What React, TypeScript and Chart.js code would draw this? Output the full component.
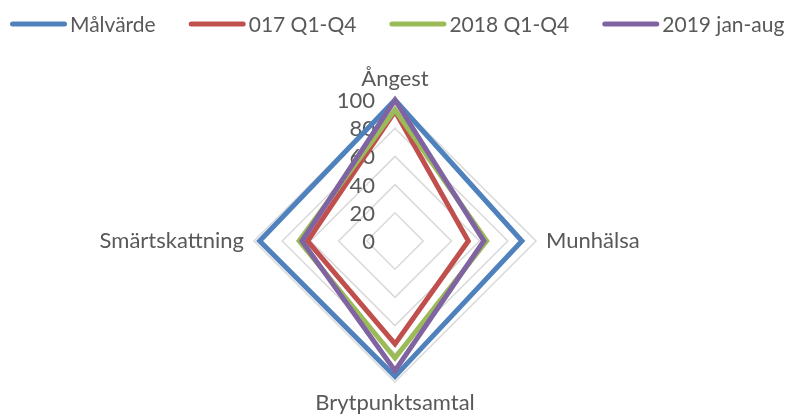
import React, { useEffect, useRef } from 'react';
import { Chart, registerables } from 'chart.js';

Chart.register(...registerables);

const categories = ['Ångest', 'Munhälsa', 'Brytpunktsamtal', 'Smärtskattning'];
const seriesNames = ['Målvärde', '017 Q1-Q4', '2018 Q1-Q4', '2019 jan-aug'];
const malvarde = [100, 90, 96, 96];
const q2017 = [92, 52, 73, 62];
const q2018 = [93, 65, 83, 68];
const jan2019 = [100, 63, 92, 66];
const seriesColors = ['#4F81BD', '#C0504D', '#9BBB59', '#8064A2'];

const FONT = 'Lato, "Open Sans", sans-serif';
const TEXT = '#595959';

const legendPlugin = {
  id: 'customLegend',
  afterDraw(chart: any) {
    const ctx = chart.ctx;
    ctx.save();
    ctx.font = `21px ${FONT}`;
    ctx.textBaseline = 'middle';
    ctx.textAlign = 'left';
    let x = 10;
    const y = 24;
    chart.data.datasets.forEach((ds: any) => {
      ctx.strokeStyle = ds.borderColor;
      ctx.lineWidth = 5;
      ctx.lineCap = 'round';
      ctx.beginPath();
      ctx.moveTo(x + 2.5, y);
      ctx.lineTo(x + 54.5, y);
      ctx.stroke();
      ctx.fillStyle = TEXT;
      ctx.fillText(ds.label, x + 60, y + 1);
      x += 60 + ctx.measureText(ds.label).width + 33;
    });
    ctx.restore();
  },
};

const tickPlugin = {
  id: 'leftTicks',
  beforeDatasetsDraw(chart: any) {
    const s = chart.scales.r;
    const ctx = chart.ctx;
    ctx.save();
    ctx.font = `22px ${FONT}`;
    ctx.textAlign = 'right';
    ctx.textBaseline = 'middle';
    ctx.fillStyle = TEXT;
    s.ticks.forEach((t: any) => {
      const d = s.getDistanceFromCenterForValue(t.value);
      ctx.fillText(String(t.value), s.xCenter - 20, s.yCenter - d + 1);
    });
    ctx.restore();
  },
};

export default function App() {
  const ref = useRef<HTMLCanvasElement | null>(null);

  useEffect(() => {
    if (!ref.current) return;
    const data = [malvarde, q2017, q2018, jan2019];
    const chart = new Chart(ref.current, {
      type: 'radar',
      data: {
        labels: categories,
        datasets: seriesNames.map((name, i) => ({
          label: name,
          data: data[i],
          borderColor: seriesColors[i],
          backgroundColor: seriesColors[i],
          borderWidth: 5,
          borderJoinStyle: 'miter',
          pointRadius: 0,
          pointHoverRadius: 0,
          fill: false,
          tension: 0,
          order: 3 - i,
        })),
      },
      options: {
        responsive: false,
        animation: false,
        devicePixelRatio: 1,
        layout: { padding: { top: 68, bottom: 2, left: 0, right: 2 } },
        plugins: {
          legend: { display: false },
          tooltip: { enabled: false },
        },
        scales: {
          r: {
            min: 0,
            max: 100,
            ticks: { stepSize: 20, display: false },
            grid: { color: '#D9D9D9', lineWidth: 1.5 },
            angleLines: { display: false },
            pointLabels: {
              font: { family: FONT, size: 22, lineHeight: 1 },
              color: TEXT,
              padding: 10,
            },
          },
        },
      },
      plugins: [legendPlugin, tickPlugin],
    } as any);
    return () => chart.destroy();
  }, []);

  return (
    <div style={{ position: 'fixed', left: 0, top: 0, width: 792, height: 417, background: '#fff' }}>
      <canvas ref={ref} width={792} height={417} style={{ width: 792, height: 417, display: 'block' }} />
    </div>
  );
}
